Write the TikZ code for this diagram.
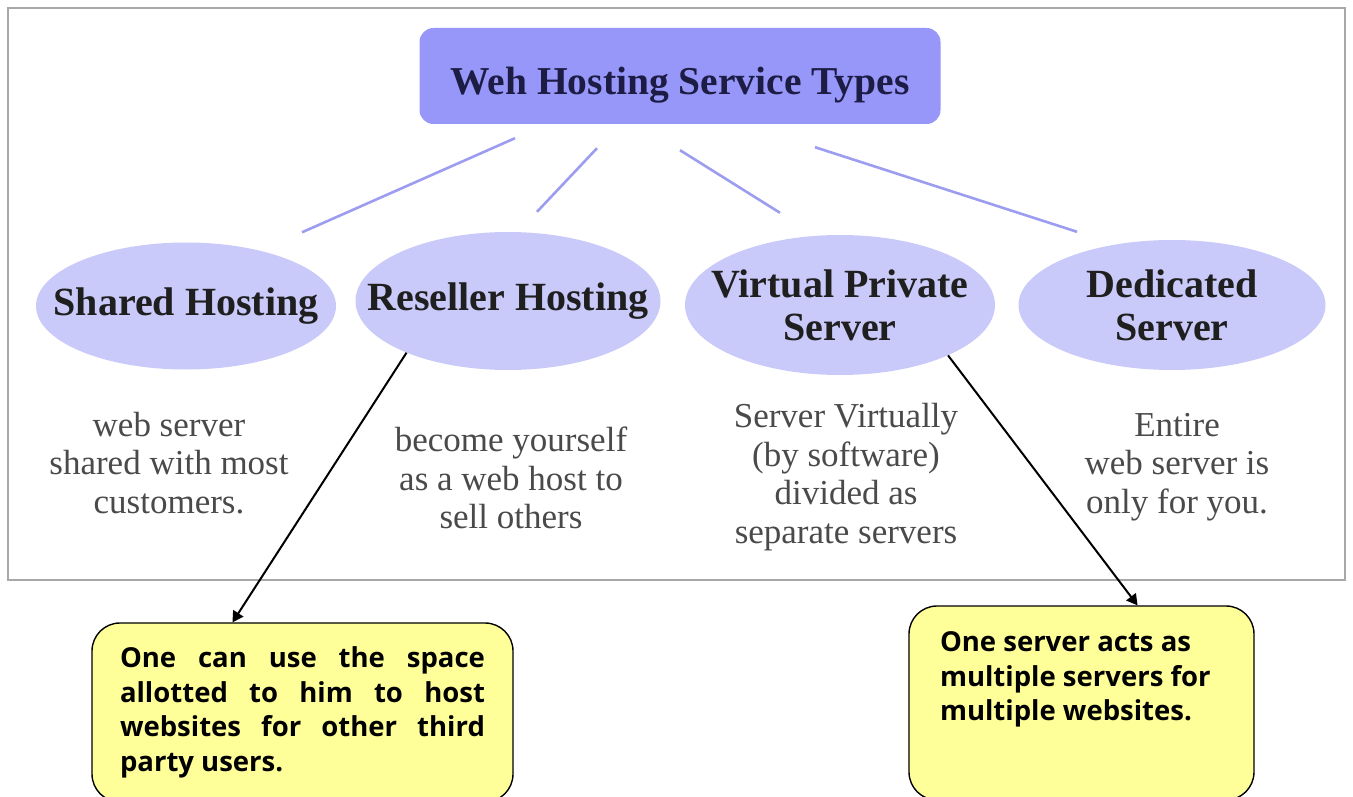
\documentclass[tikz,border=0pt]{standalone}
\usepackage{fontspec}
\setmainfont{Liberation Serif}
\newfontfamily\notefont{Open Sans}
\usetikzlibrary{shapes,arrows}

\definecolor{titlefill}{HTML}{9797FA}
\definecolor{typefill}{HTML}{CACAFA}
\definecolor{linkblue}{HTML}{9C9CF0}
\definecolor{notefill}{HTML}{FFFF99}
\definecolor{titleink}{HTML}{1C1C44}
\definecolor{descink}{HTML}{4A4A4A}
\definecolor{frame}{HTML}{A8A8A8}

\begin{document}
\begin{tikzpicture}[%
    x=1pt, y=-1pt,              % work in pixels, top-down
    >=triangle 60,              % arrow tips for the callouts
    ]
% -------------------------------------------------
% Box styles
\tikzset{
  titlebox/.style={rectangle, rounded corners=14pt, fill=titlefill,
    minimum width=521pt, minimum height=96pt, text=titleink,
    font=\fontsize{39.5}{44}\selectfont\bfseries},
  typebox/.style={ellipse, fill=typefill, inner xsep=-60pt, inner ysep=-30pt,
    align=center, text=black!88, font=\fontsize{40}{43}\selectfont\bfseries},
  desc/.style={align=center, text=descink, font=\fontsize{35}{38.5}\selectfont},
  note/.style={draw, line width=1.4pt, rounded corners=28pt, fill=notefill,
    inner sep=0pt, font=\notefont\fontsize{27.5}{34.5}\selectfont\bfseries},
  % Connector line styles
  link/.style={draw=linkblue, line width=2.6pt},
  point/.style={->, draw, line width=2pt}
}
\useasboundingbox (0,0) rectangle (1353,797);
\draw [frame, line width=1.4pt, fill=white] (8,8) rectangle (1345,580);
% -------------------------------------------------
% Title and the four hosting types
\node [titlebox] (title) at (680,76) {\raisebox{-9pt}[\height][\depth]{Weh Hosting Service Types}};
\node [typebox, minimum width=300pt, minimum height=127pt] (shared) at (186,306) {Shared Hosting};
\node [typebox, minimum width=305pt, minimum height=138pt] (res) at (508,301) {Reseller Hosting};
\node [typebox, minimum width=310pt, minimum height=140pt] (vps) at (840,305) {Virtual Private\\Server};
\node [typebox, minimum width=307pt, minimum height=130pt] (ded) at (1172,305) {Dedicated\\Server};

\draw [link] ([xshift=-165pt, yshift=-14pt]title.south) -- ([xshift=116pt, yshift=10pt]shared.north);
\draw [link] ([xshift=-83pt, yshift=-24pt]title.south) -- ([xshift=29pt, yshift=20pt]res.north);
\draw [link] ([yshift=-26pt]title.south) -- ([xshift=-60pt, yshift=22pt]vps.north);
\draw [link] ([xshift=135pt, yshift=-23pt]title.south) -- ([xshift=-95pt, yshift=8pt]ded.north);

% -------------------------------------------------
% Short descriptions
\node [desc] (shareddesc) at (169,463) {web server\\shared with most\\customers.};
\node [desc] (resdesc) at (511,478) {become yourself\\as a web host to\\sell others};
\node [desc] (vpsdesc) at (846,477) {Server Virtually\\(by software)\\divided as\\separate servers};
\node [desc] (deddesc) at (1177,467) {Entire\\web server is\\only for you.};

% -------------------------------------------------
% Callouts
\node [note, minimum width=421pt, minimum height=179pt] (resnote) at (302.5,712.5)
  {\parbox{365pt}{One can use the space\linebreak allotted to him to host\linebreak
   websites for other third\linebreak party users.}};
\node [note, minimum width=345pt, minimum height=194pt] (vpsnote) at (1081.5,703)
  {\parbox[c][142pt][t]{283pt}{\raggedright One server acts as\\multiple servers for\\multiple websites.}};

\draw [point] (res.207) -- ([xshift=-70pt]resnote.north);
\draw [point] (vps.335) -- ([xshift=56pt]vpsnote.north);
% -------------------------------------------------
\end{tikzpicture}
\end{document}
